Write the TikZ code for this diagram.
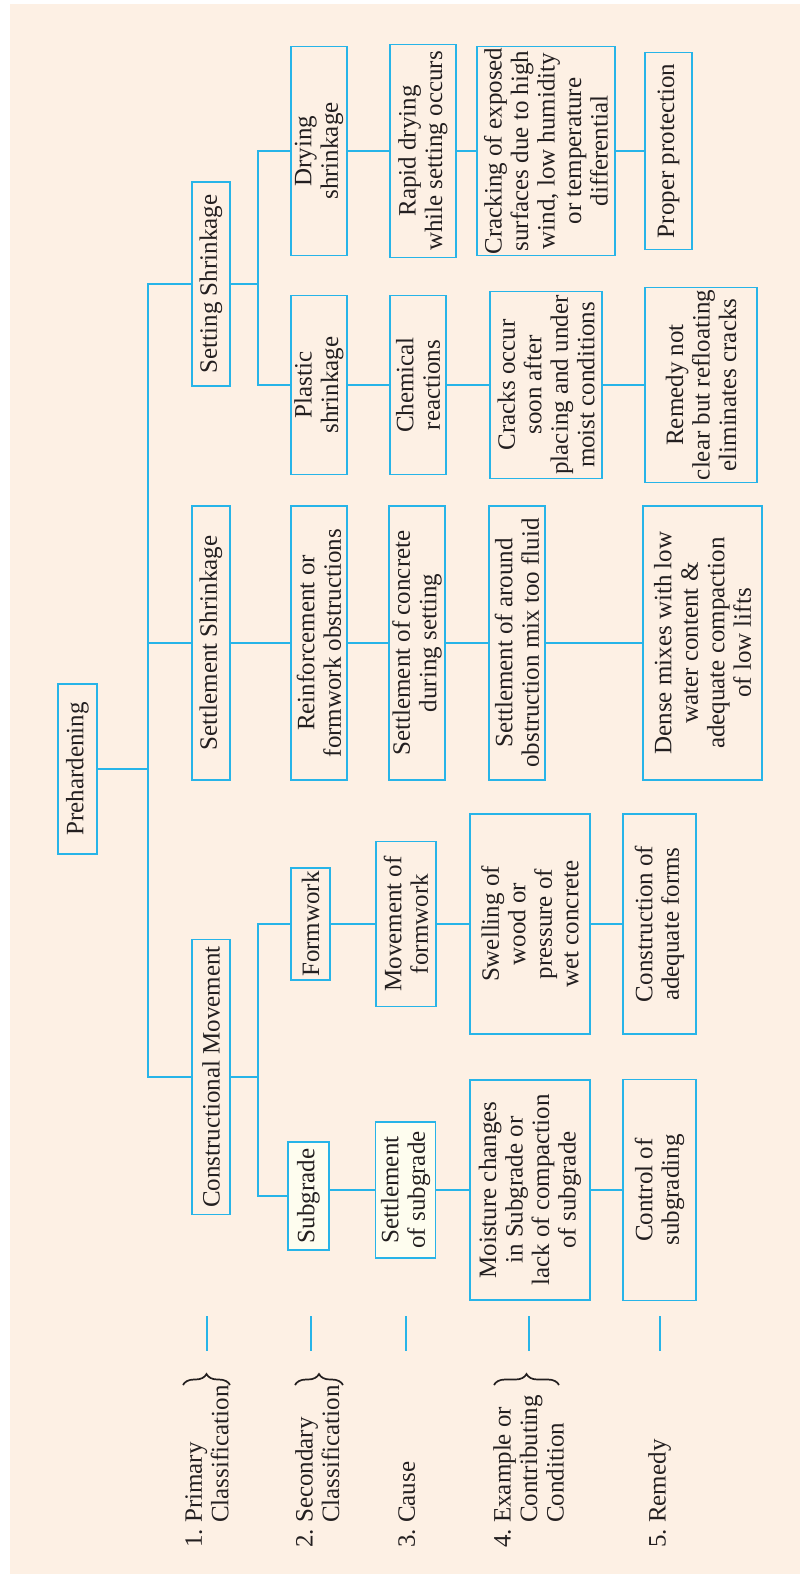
\documentclass[tikz,border=0pt]{standalone}
\usepackage{fontspec}
\setmainfont{Liberation Serif}
\usetikzlibrary{calc,decorations.pathreplacing}
\definecolor{bg}{HTML}{FDF0E4}
\definecolor{ln}{HTML}{27B4E8}
\definecolor{iv}{HTML}{FEFDEF}
\definecolor{ink}{HTML}{231F20}

\begin{document}
\begin{tikzpicture}[x=1pt,y=-1pt,
  every node/.style={rotate=90,text=ink,font=\fontsize{25}{26.5}\selectfont,align=center,inner sep=0pt},
  bx/.style 2 args={draw=ln,line width=1.2pt,minimum width=#1pt,minimum height=#2pt},
  link/.style={draw=ln,line width=1.2pt},
  brc/.style={decorate,decoration={brace,amplitude=11pt},line width=1.7pt,draw=ink}]
  \fill[white] (0,0) rectangle (800,1574);
  \fill[bg] (10,4) rectangle (800,1574);
  \useasboundingbox (0,0) rectangle (800,1574);
  \coordinate (trunk) at (148,0);
  \coordinate (bus2) at (258,0);
  % primary
  \node[bx={170}{39}] (pre) at (77.5,769) {Prehardening};
  \node[bx={204}{38}] (setg) at (211,284) {Setting Shrinkage};
  \node[bx={274}{38}] (sett) at (211,643) {Settlement Shrinkage};
  \node[bx={275}{38}] (cons) at (211,1077) {Constructional Movement};
  % secondary
  \node[bx={209}{56}] (dry) at (319,151) {Drying\\shrinkage};
  \node[bx={179}{56}] (pla) at (319,385) {Plastic\\shrinkage};
  \node[bx={274}{56}] (rei) at (319,643) {Reinforcement or\\formwork obstructions};
  \node[bx={112}{39}] (frm) at (310.5,924) {Formwork};
  \node[bx={108}{41},fill=iv] (sub) at (308.5,1196) {Subgrade};
  % cause
  \node[bx={213}{66}] (rap) at (423,151) {Rapid drying\\while setting occurs};
  \node[bx={179}{56}] (che) at (418,385) {Chemical\\reactions};
  \node[bx={274}{56}] (sco) at (417,643) {Settlement of concrete\\during setting};
  \node[bx={165}{60}] (mov) at (406,924) {Movement of\\formwork};
  \node[bx={136}{60},fill=iv] (ssu) at (405.6,1190) {Settlement\\of subgrade};
  % example or contributing condition
  \node[bx={209}{138}] (crk) at (546,151) {Cracking of exposed\\surfaces due to high\\wind, low humidity\\or temperature\\differential};
  \node[bx={187}{112}] (cro) at (546,385) {Cracks occur\\soon after\\placing and under\\moist conditions};
  \node[bx={274}{56}] (sar) at (517,643) {Settlement of around\\obstruction mix too fluid};
  \node[bx={220}{120}] (swe) at (530,924) {Swelling of\\wood or\\pressure of\\wet concrete};
  \node[bx={220}{120}] (moi) at (530,1190) {Moisture changes\\in Subgrade or\\lack of compaction\\of subgrade};
  % remedy
  \node[bx={197}{47}] (pro) at (668.5,151) {Proper protection};
  \node[bx={195}{112}] (rem) at (701,385) {Remedy not\\clear but refloating\\eliminates cracks};
  \node[bx={274}{119}] (den) at (702.5,643) {Dense mixes with low\\water content \&\\adequate compaction\\of low lifts};
  \node[bx={220}{73}] (con) at (659.5,924) {Construction of\\adequate forms};
  \node[bx={221}{73}] (ctl) at (659.5,1190) {Control of\\subgrading};
  % tree
  \draw[link] (pre.south) -- (pre.south -| trunk);
  \draw[link] (setg.north) -| (trunk |- cons.north) -- (cons.north);
  \draw[link] (sett.north) -- (sett.north -| trunk);
  \draw[link] (setg.south) -- (setg.south -| bus2);
  \draw[link] (dry.north) -| (bus2 |- pla.north) -- (pla.north);
  \draw[link] (cons.south) -- (cons.south -| bus2);
  \draw[link] (frm.north) -| (bus2 |- sub.north) -- (sub.north);
  \foreach \a/\b in {sett/rei,dry/rap,rap/crk,crk/pro,pla/che,che/cro,cro/rem,rei/sco,sco/sar,sar/den,
    frm/mov,mov/swe,swe/con,sub/ssu,ssu/moi,moi/ctl}
    \draw[link] (\b.north -| \a.south) -- (\b.north);
  % legend
  \node[anchor=north west,align=left] (lg1) at (185,1548) {1.~Primary\\\phantom{1.~}Classification};
  \node[anchor=north west,align=left] (lg2) at (295,1548) {2.~Secondary\\\phantom{2.~}Classification};
  \node[anchor=north west,align=left] (lg3) at (398,1548) {3.~Cause};
  \node[anchor=north west,align=left] (lg4) at (493,1548) {4.~Example or\\\phantom{4.~}Contributing\\\phantom{4.~}Condition};
  \node[anchor=north west,align=left] (lg5) at (648,1548) {5.~Remedy};
  \foreach \x in {207,311,406,529,660}
    \draw[link] (\x,1316) -- (\x,1351);
  \draw[brc] (183,1385) -- (230,1385);
  \draw[brc] (295,1385) -- (343,1385);
  \draw[brc] (494,1385) -- (559,1385);
\end{tikzpicture}
\end{document}
